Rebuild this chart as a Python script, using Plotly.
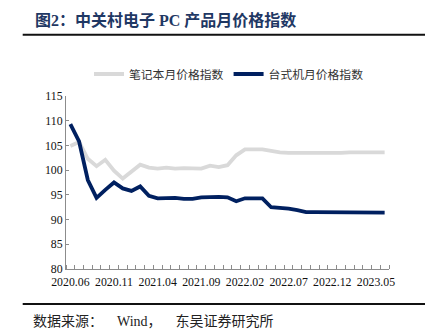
import plotly.graph_objects as go

months = []
y, m = 2020, 6
for _ in range(37):
    months.append(f"{y}.{m:02d}")
    m += 1
    if m > 12:
        m = 1
        y += 1

notebook = [104.9, 105.7, 102.3, 100.8, 102.1, 99.9, 98.3, 99.7, 101.1, 100.5,
            100.3, 100.5, 100.3, 100.4, 100.3, 100.3, 100.9, 100.6, 101.0, 103.0,
            104.2, 104.2, 104.2, 103.9, 103.6, 103.5, 103.5, 103.4, 103.4, 103.4,
            103.4, 103.5, 103.6, 103.6, 103.6, 103.6, 103.6]
desktop = [109.3, 105.8, 98.0, 94.4, 96.0, 97.5, 96.3, 95.8, 96.7, 94.8,
           94.3, 94.4, 94.4, 94.2, 94.2, 94.5, 94.6, 94.6, 94.5, 93.7,
           94.3, 94.3, 94.3, 92.5, 92.4, 92.2, 91.9, 91.5, 91.5, 91.5,
           91.5, 91.5, 91.4, 91.4, 91.4, 91.4, 91.4]

series_names = ["笔记本月价格指数", "台式机月价格指数"]
y_ticks = [80, 85, 90, 95, 100, 105, 110, 115]
label_idx = list(range(0, 37, 5))

xs = list(range(len(months)))
serif = "Times New Roman, Liberation Serif, Noto Sans CJK SC, serif"
cjk = "Liberation Serif, Noto Sans CJK SC, sans-serif"

W, H = 436, 335
L, R, T, B = 66, 47, 96, 66
PW, PH = W - L - R, H - T - B


def px_x(px):
    return (px - L) / PW


def px_y(py):
    return (H - B - py) / PH


fig = go.Figure()
fig.add_trace(go.Scatter(x=xs, y=notebook, mode="lines", name=series_names[0],
                         line=dict(color="#d9d9d9", width=3.8)))
fig.add_trace(go.Scatter(x=xs, y=desktop, mode="lines", name=series_names[1],
                         line=dict(color="#002060", width=3.8)))

fig.update_layout(
    width=W, height=H,
    margin=dict(l=L, r=R, t=T, b=B),
    paper_bgcolor="white", plot_bgcolor="white",
    font=dict(family=serif, size=11.5, color="#222222"),
    showlegend=True,
    legend=dict(orientation="h", x=px_x(229), xanchor="center",
                y=px_y(74), yanchor="middle",
                font=dict(family=cjk, size=11.8, color="#333333"),
                traceorder="normal"),
    xaxis=dict(range=[-0.5, 36.5], tickmode="array",
               tickvals=label_idx, ticktext=[months[i] for i in label_idx],
               ticks="", showgrid=False, zeroline=False,
               showline=True, linecolor="#8c8c8c", linewidth=1,
               ticklabelstandoff=2,
               tickfont=dict(family=serif, size=11.8, color="#111111"),
               minor=dict(tickvals=[i - 0.5 for i in range(38)], ticks="inside",
                          ticklen=4, tickcolor="#8c8c8c", tickwidth=1, showgrid=False),
               fixedrange=True),
    yaxis=dict(range=[80, 115], tickmode="array", tickvals=y_ticks,
               ticks="inside", ticklen=3, tickcolor="#8c8c8c",
               showgrid=False, zeroline=False,
               showline=True, linecolor="#8c8c8c", linewidth=1,
               tickfont=dict(family=serif, size=11.8, color="#111111"),
               fixedrange=True),
)

fig.add_annotation(text="<b>图2：中关村电子 PC 产品月价格指数</b>", xref="paper", yref="paper",
                   x=px_x(33), y=px_y(20.5), xanchor="left", yanchor="middle",
                   showarrow=False, font=dict(family=cjk, size=16, color="#1f3864"))

fig.add_annotation(text="数据来源：\u3000\u2002Wind，\u3000\u2002东吴证券研究所", xref="paper", yref="paper",
                   x=px_x(31), y=px_y(321.5), xanchor="left", yanchor="middle",
                   showarrow=False, font=dict(family=cjk, size=14, color="#222222"))

for ypx in (34.7, 304):
    fig.add_shape(type="line", xref="paper", yref="paper",
                  x0=px_x(22.7), x1=px_x(425), y0=px_y(ypx), y1=px_y(ypx),
                  line=dict(color="#111111", width=2))

fig.write_html("out.html")
